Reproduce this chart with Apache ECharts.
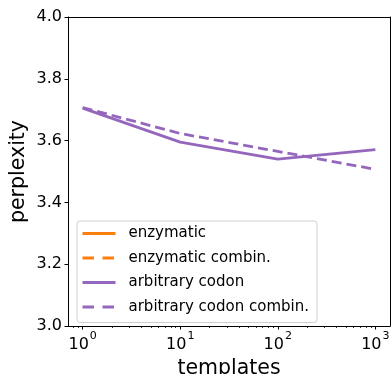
<!DOCTYPE html>
<html><head><meta charset="utf-8">
<script src="https://cdn.jsdelivr.net/npm/echarts@6/dist/echarts.min.js"></script>
<style>html,body{margin:0;padding:0;background:#fff}#c{width:391px;height:374px}</style>
</head><body><div id="c"></div>
<script>
const templates = [1, 10, 100, 1000];
const enzymatic = [];
const enzymaticCombin = [];
const arbitraryCodon = [3.705, 3.595, 3.540, 3.571];
const arbitraryCodonCombin = [3.707, 3.623, 3.565, 3.507];
const yTicks = [3.0, 3.2, 3.4, 3.6, 3.8, 4.0];
const xMajor = [0, 1, 2, 3];

const minorVals = [];
for (let d = -1; d <= 3; d++) for (let k = 2; k <= 9; k++) {
  const v = d + Math.log10(k);
  if (v > -0.15 && v < 3.15) minorVals.push(v);
}
const toXY = (arr) => arr.map((v, i) => [Math.log10(templates[i]), v]);
const font = 'DejaVu Sans';
const purple = '#9467bd', orange = '#ff7f0e';
const legendDash = {type: [11.5, 8.5]};

const chart = echarts.init(document.getElementById('c'), null, {renderer: 'canvas'});
chart.setOption({
  animation: false,
  textStyle: {fontFamily: font},
  grid: {left: 68, right: 1, top: 17, bottom: 48, containLabel: false, outerBoundsMode: 'none'},
  xAxis: [{
    type: 'value', min: -0.15, max: 3.15,
    name: 'templates', nameLocation: 'middle', nameGap: 31,
    nameTextStyle: {fontFamily: font, fontSize: 20.5, color: '#000'},
    splitLine: {show: false},
    axisLine: {show: true, onZero: false, lineStyle: {color: '#000', width: 1}},
    axisTick: {show: true, length: 3.5, customValues: xMajor, lineStyle: {color: '#000'}},
    axisLabel: {
      customValues: xMajor, margin: 5, color: '#000',
      formatter: v => '{b|10}{s|' + Math.round(v) + '}',
      rich: {
        b: {fontFamily: font, fontSize: 16, color: '#000', lineHeight: 22, verticalAlign: 'bottom'},
        s: {fontFamily: font, fontSize: 11, color: '#000', lineHeight: 22, verticalAlign: 'top', padding: [0,0,0,1]}
      }
    }
  }, {
    type: 'value', min: -0.15, max: 3.15, position: 'bottom',
    splitLine: {show: false},
    axisLine: {show: false, onZero: false},
    axisTick: {show: true, length: 2, customValues: minorVals, lineStyle: {color: '#000', width: 0.8}},
    axisLabel: {show: false}
  }, {
    type: 'value', min: -0.15, max: 3.15, position: 'top',
    splitLine: {show: false}, axisTick: {show: false}, axisLabel: {show: false},
    axisLine: {show: true, onZero: false, lineStyle: {color: '#000', width: 1}}
  }],
  yAxis: [{
    type: 'value', min: 3.0, max: 4.0, interval: 0.2,
    name: 'perplexity', nameLocation: 'middle', nameGap: 39, nameMoveOverlap: false,
    nameTextStyle: {fontFamily: font, fontSize: 20.5, color: '#000'},
    splitLine: {show: false},
    axisLine: {show: true, onZero: false, lineStyle: {color: '#000', width: 1}},
    axisTick: {show: true, length: 3.5, lineStyle: {color: '#000'}},
    axisLabel: {fontFamily: font, fontSize: 16, color: '#000', margin: 6, formatter: v => v.toFixed(1)}
  }, {
    type: 'value', min: 3.0, max: 4.0, position: 'right',
    splitLine: {show: false}, axisTick: {show: false}, axisLabel: {show: false},
    axisLine: {show: true, onZero: false, lineStyle: {color: '#000', width: 1}}
  }],
  legend: {
    orient: 'vertical', left: 77, top: 221,
    padding: [5, 8, 8, 4], itemGap: 9.5, itemWidth: 33, itemHeight: 14,
    borderColor: '#d0d0d0', borderWidth: 1, borderRadius: 3,
    backgroundColor: 'rgba(255,255,255,0.8)',
    itemStyle: {opacity: 0},
    lineStyle: {width: 3},
    textStyle: {fontFamily: font, fontSize: 15, color: '#000', padding: [0,0,0,8]},
    data: [
      {name: 'enzymatic'},
      {name: 'enzymatic combin.', lineStyle: legendDash},
      {name: 'arbitrary codon'},
      {name: 'arbitrary codon combin.', lineStyle: legendDash}
    ]
  },
  series: [
    {name: 'enzymatic', type: 'line', data: toXY(enzymatic), symbol: 'none', color: orange,
     lineStyle: {width: 2.8, color: orange}},
    {name: 'enzymatic combin.', type: 'line', data: toXY(enzymaticCombin), symbol: 'none', color: orange,
     lineStyle: {width: 2.8, color: orange, type: [10, 5]}},
    {name: 'arbitrary codon', type: 'line', data: toXY(arbitraryCodon), symbol: 'none', color: purple,
     lineStyle: {width: 2.8, color: purple}},
    {name: 'arbitrary codon combin.', type: 'line', data: toXY(arbitraryCodonCombin), symbol: 'none', color: purple,
     lineStyle: {width: 2.8, color: purple, type: [10, 5]}}
  ]
});
</script></body></html>
